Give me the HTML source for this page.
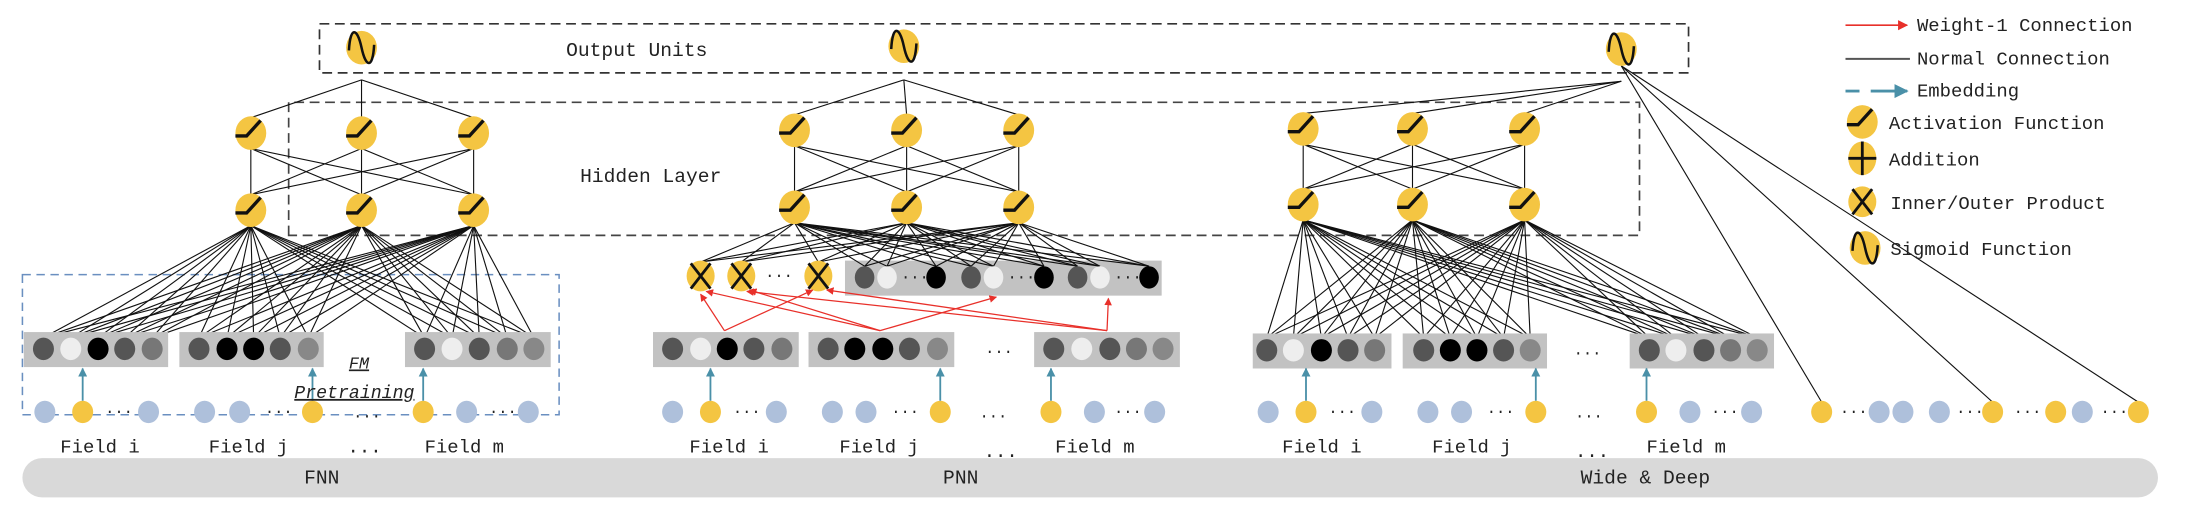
<!DOCTYPE html>
<html><head><meta charset="utf-8"><style>
html,body{margin:0;padding:0;background:#fff;}
svg{display:block;}
text{font-family:"Liberation Mono",monospace;fill:#222;}
</style></head><body>
<svg id="s" width="2186" height="510" viewBox="0 0 1560 364" preserveAspectRatio="none" xmlns="http://www.w3.org/2000/svg">
<defs>
<marker id="ar" viewBox="0 0 10 10" refX="9" refY="5" markerWidth="6" markerHeight="6" orient="auto"><path d="M0,0 L10,5 L0,10 z" fill="#e8302a"/></marker>
<marker id="at" viewBox="0 0 10 10" refX="9" refY="5" markerWidth="5" markerHeight="5" orient="auto"><path d="M0,0 L10,5 L0,10 z" fill="#4a90a8"/></marker>
</defs>
<g id="g"></g>
</svg>
<script>
var g=document.getElementById('g'),h='';
function L(x1,y1,x2,y2,c,w,ex){h+='<line x1="'+x1+'" y1="'+y1+'" x2="'+x2+'" y2="'+y2+'" stroke="'+(c||'#111')+'" stroke-width="'+(w||0.8)+'" '+(ex||'')+'/>';}
function E(x,y,rx,ry,f){h+='<ellipse cx="'+x+'" cy="'+y+'" rx="'+rx+'" ry="'+ry+'" fill="'+f+'"/>';}
function R(x,y,w,hh,f,ex){h+='<rect x="'+x+'" y="'+y+'" width="'+w+'" height="'+hh+'" fill="'+f+'" '+(ex||'')+'/>';}
function T(x,y,s,fs,ex){h+='<text x="'+x+'" y="'+y+'" font-size="'+(fs||13.5)+'" '+(ex||'')+'>'+s+'</text>';}
var Y='#f4c542',B='#aec0db';
function act(x,y){E(x,y,11,12,Y);h+='<path d="M'+(x-11)+','+(y+2)+' L'+(x-3)+','+(y+2)+' L'+(x+7)+','+(y-9)+'" stroke="#111" stroke-width="2.4" fill="none"/>';}
function sig(x,y){E(x,y,11,12,Y);h+='<path d="M'+(x-9)+','+(y+2)+' C'+(x-8)+','+(y-16)+' '+(x-3)+','+(y-14)+' '+x+','+y+' S'+(x+8)+','+(y+16)+' '+(x+9)+','+(y-2)+'" stroke="#111" stroke-width="1.8" fill="none"/>';}
function prod(x,y){E(x,y,10,11,Y);L(x-7,y-9,x+7,y+9,'#111',2);L(x+7,y-9,x-7,y+9,'#111',2);}
function add(x,y){E(x,y,10,12,Y);L(x,y-12,x,y+12,'#111',2);L(x-10,y,x+10,y,'#111',2);}
// bottom bar
R(16,327,1524,28,'#d9d9d9','rx="14"');
T(217,345,'FNN',14);T(673,345,'PNN',14);T(1128,345,'Wide &amp; Deep',14);
// output box & hidden box
h+='<rect x="228" y="17" width="977" height="35" fill="none" stroke="#333" stroke-width="1.2" stroke-dasharray="7,4"/>';
h+='<path d="M206,168 L206,73 L1170,73 L1170,168 Z" fill="none" stroke="#444" stroke-width="1.2" stroke-dasharray="7,4"/>';
T(404,40,'Output Units',14);T(414,130,'Hidden Layer',14);
// FM box
h+='<rect x="16" y="196" width="383" height="100" fill="none" stroke="#6a8fc0" stroke-width="1.1" stroke-dasharray="6,4"/>';
var embC=[['#555','#eee','#000','#555','#777'],['#555','#000','#000','#555','#888'],['#555','#eee','#555','#777','#888']];
function bars(bx,xs,y){for(var i=0;i<3;i++){R(bx[i][0],y-12,bx[i][1]-bx[i][0],25,'#c2c2c2');}}
function model(o){
  var top=o.top,bot=o.bot,hx=o.hx;
  // sigmoid to top nodes
  for(var i=0;i<3;i++)L(o.sx,o.sy,hx[i],top-11);
  for(var i=0;i<3;i++)for(var j=0;j<3;j++)L(hx[i],top+11,hx[j],bot-11);
  // to targets
  for(var i=0;i<3;i++)o.tg.forEach(function(t){L(hx[i],bot+11,t[0],t[1]);});
}
// ---- FNN
var fB=[[17,120],[128,231],[289,393]],fX=[[31,50.5,70,89,108.6],[142,162,181,200,220],[303,322.6,342,362,381]];
var tg=[];fX.forEach(function(a){a.forEach(function(x){tg.push([x,241]);});});
model({sx:258,sy:57,top:95,bot:150,hx:[179,258,338],tg:tg});
bars(fB,fX,249);fX.forEach(function(a,i){a.forEach(function(x,j){E(x,249,7.5,8,embC[i][j]);});});
// ---- PNN
var pB=[[466,570],[577,681],[738,842]],pX=[[480,500,519,538,558],[591,610,630,649,669],[752,772,792,811,830]];
R(603,186,226,25,'#c2c2c2');
var gb=[[617,'#555'],[633,'#eee'],[668,'#000'],[693,'#555'],[709,'#eee'],[745,'#000'],[769,'#555'],[785,'#eee'],[820,'#000']];
tg=[[500,187],[529,187],[584,187]];gb.forEach(function(c){tg.push([c[0],190]);});
model({sx:645,sy:57,top:93,bot:148,hx:[567,647,727],tg:tg});
gb.forEach(function(c){E(c[0],198,7,8,c[1]);});
T(643,201,'···',11);T(719,201,'···',11);T(795,201,'···',11);
prod(500,197);prod(529,197);prod(584,197);T(546,200,'···',11);
bars(pB,pX,249);pX.forEach(function(a,i){a.forEach(function(x,j){E(x,249,7.5,8,embC[i][j]);});});
T(703,254,'···',11);
// red arrows
var RA='marker-end="url(#ar)"';
L(517,236,500,210,'#e8302a',0.9,RA);L(517,236,580,207,'#e8302a',0.9,RA);
L(628,236,504,208,'#e8302a',0.9,RA);L(628,236,535,207,'#e8302a',0.9,RA);L(628,236,711,212,'#e8302a',0.9,RA);
L(790,236,533,208,'#e8302a',0.9,RA);L(790,236,590,207,'#e8302a',0.9,RA);L(790,236,791,213,'#e8302a',0.9,RA);
// ---- WD
var wB=[[894,993],[1001,1104],[1163,1266]],wX=[[904,923,943,962,981],[1016,1035,1054,1073,1092],[1177,1196,1216,1235,1254]];
tg=[];wX.forEach(function(a){a.forEach(function(x){tg.push([x,241]);});});
model({sx:1157,sy:58,top:92,bot:146,hx:[930,1008,1088],tg:tg});
bars(wB,wX,250);wX.forEach(function(a,i){a.forEach(function(x,j){E(x,250,7.5,8,embC[i][j]);});});
T(1123,255,'···',11);
L(1157,47,1300,287);L(1157,47,1422,287);L(1157,47,1526,287);
// hidden nodes
[[179,258,338,95,150],[567,647,727,93,148],[930,1008,1088,92,146]].forEach(function(m){for(var i=0;i<3;i++){act(m[i],m[3]);act(m[i],m[4]);}});
sig(258,34);sig(645,33);sig(1157,35);
// inputs
function inp(list){list.forEach(function(p){if(p[1]=='d')T(p[0]-7,297,'···',11);else E(p[0],294,7.5,8,p[1]=='y'?Y:B);});}
inp([[32,'b'],[59,'y'],[82,'d'],[106,'b'],[146,'b'],[171,'b'],[196,'d'],[223,'y'],[302,'y'],[333,'b'],[356,'d'],[377,'b'],
[480,'b'],[507,'y'],[530,'d'],[554,'b'],[594,'b'],[618,'b'],[643,'d'],[671,'y'],[750,'y'],[781,'b'],[802,'d'],[824,'b'],
[905,'b'],[932,'y'],[955,'d'],[979,'b'],[1019,'b'],[1043,'b'],[1068,'d'],[1096,'y'],[1175,'y'],[1206,'b'],[1228,'d'],[1250,'b'],
[1300,'y'],[1320,'d'],[1341,'b'],[1358,'b'],[1384,'b'],[1403,'d'],[1422,'y'],[1444,'d'],[1467,'y'],[1486,'b'],[1506,'d'],[1526,'y']]);
T(252,300,'···',11);T(699,300,'···',11);T(1124,300,'···',11);
// embedding arrows
var TA='marker-end="url(#at)"';
[59,223,302,507,671,750,932,1096,1175].forEach(function(x){L(x,286,x,263,'#4a90a8',1.3,TA);});
// field labels
[[43,'Field i'],[149,'Field j'],[303,'Field m'],[492,'Field i'],[599,'Field j'],[753,'Field m'],[915,'Field i'],[1022,'Field j'],[1175,'Field m']].forEach(function(f){T(f[0],323,f[1],13.5);});
T(248,323,'...',13.5);T(702,326,'...',13.5);T(1124,326,'...',13.5);
// FM pretraining
T(249,263,'FM',12,'font-style="italic" text-decoration="underline"');
T(210,284,'Pretraining',13,'font-style="italic" text-decoration="underline"');
// legend
L(1317,18,1361,18,'#e8302a',1.2,RA);T(1368,22,'Weight-1 Connection',13.5);
L(1317,42,1363,42,'#555',1.4);T(1368,46,'Normal Connection',13.5);
L(1317,65,1327,65,'#4a90a8',2);L(1335,65,1361,65,'#4a90a8',2,TA);T(1368,69,'Embedding',13.5);
act(1329,87);T(1348,92,'Activation Function',13.5);
add(1329,113);T(1348,118,'Addition',13.5);
prod(1329,144);T(1349,149,'Inner/Outer Product',13.5);
sig(1331,177);T(1349,182,'Sigmoid Function',13.5);
g.innerHTML=h;
</script>
</body></html>
